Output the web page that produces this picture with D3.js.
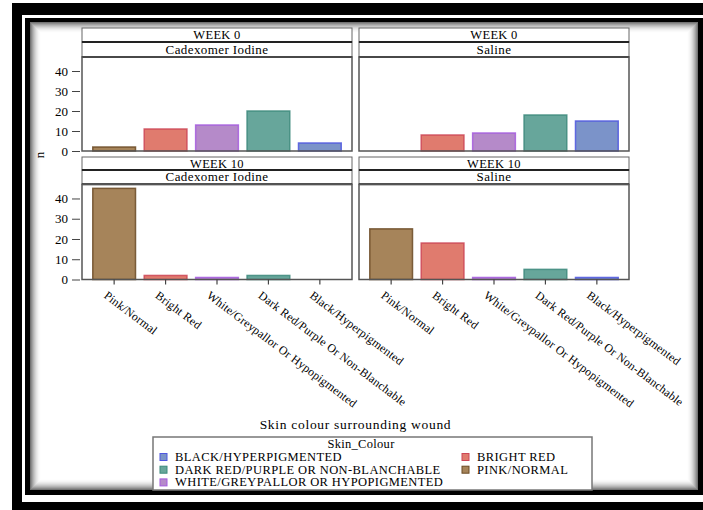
<!DOCTYPE html>
<html><head><meta charset="utf-8">
<script src="https://cdn.jsdelivr.net/npm/d3@7"></script>
<style>body{margin:0;background:#fff}svg{display:block}</style>
</head><body><svg id="c" width="703" height="510" font-family="'Liberation Serif', 'DejaVu Serif', serif"></svg>
<script>
const categories = ["Pink/Normal","Bright Red","White/Greypallor Or Hypopigmented","Dark Red/Purple Or Non-Blanchable","Black/Hyperpigmented"];
const weeks = ["WEEK 0","WEEK 10"];
const treatments = ["Cadexomer Iodine","Saline"];
const cadexomerWeek0 = [2,11,13,20,4];
const salineWeek0 = [0,8,9,18,15];
const cadexomerWeek10 = [45,2,1,2,0];
const salineWeek10 = [25,18,1,5,1];
const yTicks = [0,10,20,30,40];
const legendLabels = ["BLACK/HYPERPIGMENTED","BRIGHT RED","DARK RED/PURPLE OR NON-BLANCHABLE","PINK/NORMAL","WHITE/GREYPALLOR OR HYPOPIGMENTED"];
const legendCats = [4,1,3,0,2];
const fills = ["#a6845a","#e07b6e","#b58ac9","#67a69b","#7b93c9"];
const strokes = ["#6b4a24","#cc4656","#a45ade","#3d8a7d","#4f57e0"];
const FONT = "'Liberation Serif', 'DejaVu Serif', serif";

const svg = d3.select("#c");
svg.append("rect").attr("x",12).attr("y",3).attr("width",720).attr("height",530).attr("fill","#000");
svg.append("rect").attr("x",22).attr("y",15).attr("width",700).attr("height",487).attr("fill","#fff");
svg.append("rect").attr("x",25).attr("y",18).attr("width",690).attr("height",477).attr("fill","#000");
svg.append("rect").attr("x",30).attr("y",22).attr("width",668).attr("height",468).attr("fill","#fff");
const sh = d3.range(0,11);
svg.selectAll("rect.sh").data(sh).enter().append("rect").attr("class","sh")
  .attr("x",d=>30+d+0.5).attr("y",d=>22+d+0.5)
  .attr("width",d=>668-2*d-1).attr("height",d=>468-2*d-1)
  .attr("fill","none").attr("stroke","#000").attr("stroke-opacity",d=>0.55*Math.pow(1-d/11,2));

const panelX = [[82,352],[359,629]];
const rows = [{s1:28,s2:42,top:57,bot:151},{s1:157,s2:170,top:184.3,bot:279.5}];
const data = [[cadexomerWeek0,salineWeek0],[cadexomerWeek10,salineWeek10]];

rows.forEach((r,ri)=>{
  const y = d3.scaleLinear().domain([0,47]).range([r.bot,r.top]);
  panelX.forEach((px,ci)=>{
    const x = d3.scaleBand().domain(categories).range(px).paddingInner(0.14).paddingOuter(0.195);
    const g = svg.append("g");
    g.append("rect").attr("x",px[0]).attr("y",r.s1).attr("width",px[1]-px[0]).attr("height",r.s2-r.s1).attr("fill","#fff").attr("stroke","#666").attr("stroke-width",1);
    g.append("rect").attr("x",px[0]).attr("y",r.s2).attr("width",px[1]-px[0]).attr("height",r.top-r.s2).attr("fill","#fff").attr("stroke","#666").attr("stroke-width",1);
    g.append("line").attr("x1",px[0]).attr("x2",px[1]).attr("y1",r.s2).attr("y2",r.s2).attr("stroke","#222").attr("stroke-width",2);
    g.append("line").attr("x1",px[0]).attr("x2",px[1]).attr("y1",r.top).attr("y2",r.top).attr("stroke","#222").attr("stroke-width",2);
    g.append("text").attr("x",(px[0]+px[1])/2).attr("y",(r.s1+r.s2)/2+4).attr("text-anchor","middle").attr("font-family",FONT).attr("font-size","12.5px").attr("letter-spacing","0.3px").text(weeks[ri]);
    g.append("text").attr("x",(px[0]+px[1])/2).attr("y",(r.s2+r.top)/2+4).attr("text-anchor","middle").attr("font-family",FONT).attr("font-size","13px").attr("letter-spacing","0.4px").text(treatments[ci]);
    const vals = data[ri][ci];
    g.selectAll("rect.bar").data(categories.map((c,i)=>({c,i,v:vals[i]})).filter(d=>d.v>0)).enter().append("rect").attr("class","bar")
      .attr("x",d=>x(d.c)+0.75).attr("width",x.bandwidth()-1.5)
      .attr("y",d=>y(d.v)).attr("height",d=>y(0)-y(d.v))
      .attr("fill",d=>fills[d.i]).attr("stroke",d=>strokes[d.i]).attr("stroke-width",1.5).attr("stroke-opacity",0.85);
    g.append("rect").attr("x",px[0]).attr("y",r.top).attr("width",px[1]-px[0]).attr("height",r.bot-r.top).attr("fill","none").attr("stroke","#555").attr("stroke-width",1.5);
    if(ci===0){
      const ax = svg.append("g").attr("transform",`translate(${px[0]-2},0)`).call(d3.axisLeft(y).tickValues(yTicks).tickSize(8).tickPadding(4));
      ax.attr("font-family",FONT).attr("font-size",13);
      ax.select(".domain").remove();
      ax.selectAll("line").attr("stroke","#444");
    }
    if(ri===1){
      const ax = svg.append("g").attr("transform",`translate(0,${r.bot})`).call(d3.axisBottom(x).tickSize(5).tickFormat(""));
      ax.select(".domain").remove();
      ax.selectAll("line").attr("stroke","#444").attr("stroke-width",1.2);
      svg.append("g").selectAll("text").data(categories).enter().append("text")
        .attr("transform",d=>`translate(${x(d)+x.bandwidth()/2-6},${r.bot+11}) rotate(37)`)
        .attr("dy","0.7em").attr("font-family",FONT).attr("font-size","11.8px").attr("letter-spacing","0.2px").text(d=>d);
    }
  });
});

svg.append("text").attr("transform","translate(44,155) rotate(-90)").attr("text-anchor","middle").attr("font-family",FONT).attr("font-size","13px").text("n");
svg.append("text").attr("x",355.5).attr("y",429).attr("text-anchor","middle").attr("font-family",FONT).attr("font-size","13.5px").attr("letter-spacing","0.7px").text("Skin colour surrounding wound");

const lg = svg.append("g");
lg.append("rect").attr("x",153).attr("y",437).attr("width",439).attr("height",53).attr("fill","#fff").attr("stroke","#777").attr("stroke-width",1.5);
lg.append("text").attr("x",361).attr("y",448).attr("text-anchor","middle").attr("font-family",FONT).attr("font-size","12.5px").attr("letter-spacing","0.3px").text("Skin_Colour");
const items = lg.selectAll("g.it").data(legendLabels.map((l,i)=>({l,c:legendCats[i],col:i%2,row:Math.floor(i/2)}))).enter().append("g")
  .attr("transform",d=>`translate(${d.col?462:160},${457+d.row*12.7})`);
items.append("rect").attr("x",0).attr("y",-3.5).attr("width",7).attr("height",7).attr("fill",d=>fills[d.c]).attr("stroke",d=>strokes[d.c]).attr("stroke-width",1);
items.append("text").attr("x",15).attr("y",4).attr("font-family",FONT).attr("font-size","12.5px").attr("letter-spacing","0.4px").text(d=>d.l);
</script></body></html>
